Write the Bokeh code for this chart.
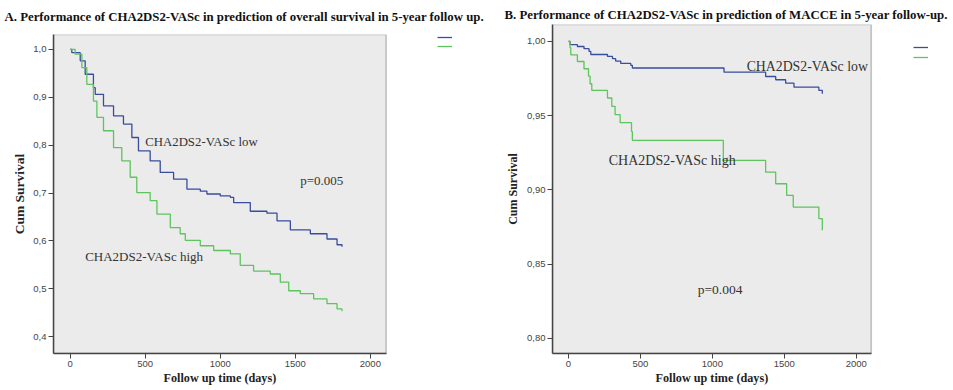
from bokeh.plotting import figure
from bokeh.models import (Range1d, FixedTicker, CustomJSTickFormatter, Label,
                          Legend, LegendItem, BoxAnnotation, Title)
from bokeh.layouts import row
from bokeh.embed import file_html
from bokeh.resources import INLINE

# ---------------- data ----------------
# Panel A: overall survival (Kaplan-Meier steps: time of drop, survival after drop)
a_low_t = [0, 11, 67, 100, 155, 167, 222, 289, 355, 411, 455, 533, 600, 689, 778,
           867, 911, 1000, 1067, 1089, 1200, 1311, 1378, 1467, 1600, 1711, 1778, 1811]
a_low_s = [1.0, 0.993, 0.976, 0.948, 0.920, 0.906, 0.882, 0.861, 0.844, 0.816, 0.788,
           0.767, 0.743, 0.729, 0.708, 0.704, 0.698, 0.694, 0.691, 0.680, 0.662, 0.658,
           0.642, 0.623, 0.615, 0.604, 0.592, 0.588]
a_high_t = [0, 33, 78, 111, 155, 178, 222, 289, 344, 400, 444, 533, 578, 667, 733, 767,
            867, 956, 1067, 1133, 1222, 1333, 1400, 1456, 1533, 1622, 1711, 1778, 1811]
a_high_s = [1.0, 0.990, 0.962, 0.927, 0.892, 0.858, 0.830, 0.795, 0.767, 0.733, 0.701,
            0.684, 0.656, 0.628, 0.615, 0.601, 0.590, 0.580, 0.573, 0.549, 0.537, 0.531,
            0.514, 0.496, 0.490, 0.479, 0.469, 0.458, 0.453]

# Panel B: MACCE
b_low_t = [0, 11, 62, 108, 143, 155, 271, 306, 328, 363, 433, 444, 1081, 1370, 1440,
           1509, 1567, 1740, 1764]
b_low_s = [1.0, 0.9978, 0.9966, 0.9951, 0.9933, 0.9912, 0.9899, 0.9884, 0.9868, 0.9852,
           0.9839, 0.9821, 0.9793, 0.9764, 0.9742, 0.9719, 0.9692, 0.9670, 0.9648]
b_high_t = [0, 11, 16, 62, 108, 139, 150, 162, 271, 301, 324, 359, 438, 444, 1076, 1370,
            1440, 1516, 1562, 1740, 1764]
b_high_s = [1.0, 0.9958, 0.9910, 0.9865, 0.9816, 0.9767, 0.9715, 0.9670, 0.9619, 0.9563,
            0.9507, 0.9453, 0.9394, 0.9334, 0.9199, 0.9120, 0.9042, 0.8964, 0.8885,
            0.8807, 0.8728]

x_ticks = [0, 500, 1000, 1500, 2000]
a_y_ticks = [0.4, 0.5, 0.6, 0.7, 0.8, 0.9, 1.0]
b_y_ticks = [0.80, 0.85, 0.90, 0.95, 1.00]

# plotted box (axis limits) of each panel
a_box_x = [-111, 2105]
a_box_y = [0.365, 1.031]
b_box_x = [-111, 2104]
b_box_y = [0.7899, 1.0114]

title_a = "A. Performance of CHA2DS2-VASc in prediction of overall survival in 5-year follow up."
title_b = "B. Performance of CHA2DS2-VASc in prediction of MACCE in 5-year follow-up."
x_label = "Follow up time (days)"
y_label = "Cum Survival"
label_low = "CHA2DS2-VASc low"
label_high = "CHA2DS2-VASc high"
p_a = "p=0.005"
p_b = "p=0.004"

BLUE = "#394d9e"
GREEN = "#5ec45e"
FRAME = "#444444"
BG = "#ebebeb"
SERIF = "Liberation Serif"
SANS = "Liberation Sans"


def km_path(t, s):
    """Expand Kaplan-Meier drop times / levels into a staircase path."""
    xs, ys = [t[0]], [s[0]]
    for i in range(1, len(t)):
        xs += [t[i], t[i]]
        ys += [s[i - 1], s[i]]
    return xs, ys


def make_panel(width, mbl, mbr, mbt, box_x, x_end, box_y, yticks, ydigits, title,
               toffset, tstandoff, valign, ylab_size, ylab_standoff, xlab_offset):
    p = figure(width=width, height=390,
               x_range=Range1d(box_x[0], x_end), y_range=Range1d(*box_y),
               output_backend="svg", toolbar_location=None,
               min_border_left=mbl, min_border_right=mbr, min_border_top=mbt,
               min_border_bottom=37,
               background_fill_color="white", border_fill_color="white",
               outline_line_color=None)
    try:
        p.frame_align = False
    except Exception:
        pass
    p.grid.visible = False
    # grey plotting box with dark outline
    p.add_layout(BoxAnnotation(left=box_x[0], right=box_x[1], fill_color=BG,
                               fill_alpha=1, line_color=FRAME, line_width=1.6,
                               level="underlay"))
    p.title.text = title
    p.title.text_font = SERIF
    p.title.text_font_style = "bold"
    p.title.text_font_size = "12.8px"
    p.title.text_color = "#111111"
    p.title.align = "left"
    p.title.vertical_align = valign
    p.title.offset = toffset
    p.title.standoff = tstandoff

    for ax in (p.xaxis[0], p.yaxis[0]):
        ax.axis_line_color = FRAME
        ax.axis_line_width = 1.5
        ax.major_tick_line_color = FRAME
        ax.major_tick_out = 5
        ax.major_tick_in = 0
        ax.minor_tick_line_color = None
        ax.major_label_text_font = SANS
        ax.major_label_text_font_size = "9.5px"
        ax.major_label_text_color = "#444444"
        ax.axis_label_text_font = SERIF
        ax.axis_label_text_font_style = "bold"
        ax.axis_label_text_color = "#222222"

    p.xaxis.ticker = FixedTicker(ticks=x_ticks)
    p.xaxis.bounds = (box_x[0], box_x[1])
    p.xaxis.major_label_standoff = 2

    # x-axis title, centred under the plotted box (not under the wider frame)
    p.add_layout(Title(text=x_label, align="left", offset=xlab_offset,
                       vertical_align="top", standoff=2, text_font=SERIF,
                       text_font_style="bold", text_font_size="12.2px",
                       text_color="#222222"), "below")

    p.yaxis.ticker = FixedTicker(ticks=yticks)
    p.yaxis.formatter = CustomJSTickFormatter(
        code="return tick.toFixed(%d).replace('.', ',');" % ydigits)
    p.yaxis.axis_label = y_label
    p.yaxis.axis_label_text_font_size = ylab_size
    p.yaxis.major_label_standoff = 2
    p.yaxis.axis_label_standoff = ylab_standoff
    return p


def add_curves(p, lt, ls, ht, hs, loc, gap):
    x, y = km_path(lt, ls)
    rb = p.line(x, y, line_color=BLUE, line_width=1.3)
    x, y = km_path(ht, hs)
    rg = p.line(x, y, line_color=GREEN, line_width=1.3)
    leg = Legend(items=[LegendItem(label=" ", renderers=[rb]),
                        LegendItem(label=" ", renderers=[rg])],
                 location=loc, padding=0, margin=0, border_line_color=None,
                 background_fill_alpha=0, glyph_width=15, glyph_height=8,
                 spacing=gap, label_width=0, label_height=8, label_standoff=0,
                 label_text_font_size="1px")
    p.add_layout(leg, "center")


def add_text(p, x, y, t, size):
    p.add_layout(Label(x=x, y=y, text=t, text_font=SERIF, text_font_size=size,
                       text_baseline="middle", text_color="#333333"))


# ---------------- panel A ----------------
p1 = make_panel(496, 53, 26, 33, a_box_x, 2667, a_box_y, a_y_ticks, 1,
                title_a, -49, 18, "top", "13.5px", 3, 110)
add_curves(p1, a_low_t, a_low_s, a_high_t, a_high_s, (384, 303), 1)
add_text(p1, 500, 0.807, label_low, "12.8px")
add_text(p1, 100, 0.567, label_high, "13px")
add_text(p1, 1533, 0.726, p_a, "13px")

# ---------------- panel B ----------------
p2 = make_panel(457, 56, 8, 24, b_box_x, 2620, b_box_y, b_y_ticks, 2,
                title_b, -48, 6, "bottom", "12px", 4, 103)
add_curves(p2, b_low_t, b_low_s, b_high_t, b_high_s, (361, 292), 2)
add_text(p2, 1238, 0.9832, label_low, "13.8px")
add_text(p2, 280, 0.920, label_high, "14px")
add_text(p2, 898, 0.8331, p_b, "13.5px")

layout = row(p1, p2)
open("out.html", "w").write(file_html(layout, INLINE))
